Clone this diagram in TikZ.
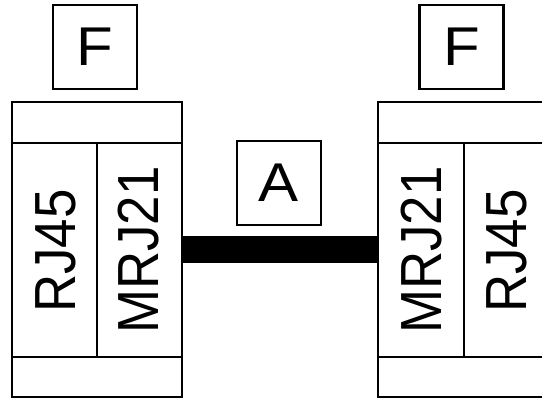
\documentclass[tikz,border=0pt]{standalone}
\usepackage{graphicx}
\usepackage{fontspec}
\setmainfont{Liberation Sans}
\newcommand\myvlbl[1]{\rotatebox{90}{\scalebox{0.91}[1]{#1}}}
\newcommand\myhlbl[1]{\scalebox{1}[0.91]{#1}}
\begin{document}
\begin{tikzpicture}[x=1pt,y=-1pt,
  box/.style={draw,line width=2.9pt,inner sep=0pt},
  part/.style={line width=2.2pt},
  sq/.style={box,minimum size=84pt,font=\fontsize{60}{60}\selectfont},
  dev/.style={box,minimum height=295pt},
  vl/.style={inner sep=0pt,font=\fontsize{58}{58}\selectfont},
  cable/.style={line width=27pt}]
\useasboundingbox (0,0) rectangle (542,399);
\clip (0,0) rectangle (542,399);
% devices
\node[dev,minimum width=170pt] (devL) at (97,249.5) {};
\node[dev,minimum width=172pt] (devR) at (464,249.5) {};
\draw[part] (12,143) -- (182,143) (12,357) -- (182,357) (97,143) -- (97,357);
\draw[part] (378,143) -- (550,143) (378,357) -- (550,357) (464,143) -- (464,357);
% labels
\node[vl] (rjL) at (56,251) {\myvlbl{RJ45}};
\node[vl] (mrjL) at (139,250) {\myvlbl{MRJ21}};
\node[vl] (mrjR) at (421.5,250) {\myvlbl{MRJ21}};
\node[vl] (rjR) at (507,251) {\myvlbl{RJ45}};
% boxes
\node[sq] (fL) at (95,47) {\myhlbl{F}};
\node[sq] (fR) at (461.5,47) {\myhlbl{F}};
\node[sq] (a) at (279,183) {\myhlbl{A}};
% cable
\draw[cable] (devL.east) -- (devR.west);
\end{tikzpicture}
\end{document}
